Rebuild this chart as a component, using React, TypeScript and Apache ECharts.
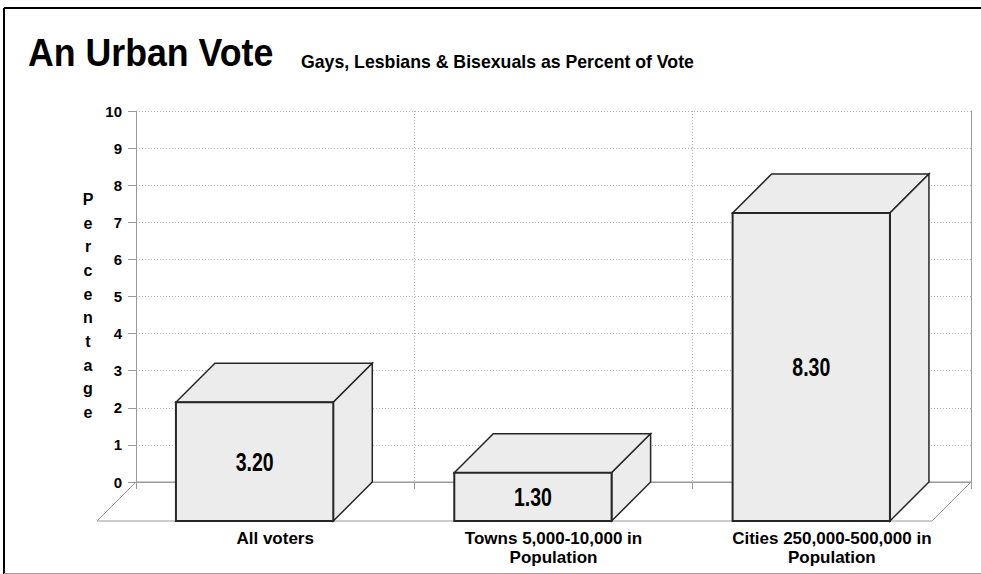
import { useEffect, useRef } from "react";
import * as echarts from "echarts";

// Chart data
const categories = [
  "All voters",
  "Towns 5,000-10,000 in\nPopulation",
  "Cities 250,000-500,000 in\nPopulation",
];
const values = [3.2, 1.3, 8.3];
const yMin = 0;
const yMax = 10;
const yInterval = 1;
const titleText = "An Urban Vote";
const subtitleText = "Gays, Lesbians & Bisexuals as Percent of Vote";
const yAxisTitle = "Percentage";

// Oblique projection: how far the back wall sits up and to the right of the front plane
const DEPTH = 39;
// Bar front face, as fractions of the band width, measured from the band centre
const FRONT_LEFT = -0.3565;
const FRONT_WIDTH = 0.5653;

const SANS = "'Liberation Sans', Arial, sans-serif";
const AXIS_GREY = "#9a9a9a";
const DOT_GREY = "#b4b4b4";
const FACE = "#ececec";
const EDGE = "#262626";

export default function App() {
  const ref = useRef<HTMLDivElement>(null);

  useEffect(() => {
    if (!ref.current) return;
    const chart = echarts.init(ref.current, null, { renderer: "svg" });

    const option: any = {
      animation: false,
      backgroundColor: "#ffffff",
      grid: { left: 136, right: 10, top: 111, bottom: 92, containLabel: false },
      xAxis: [
        {
          type: "category",
          data: categories,
          boundaryGap: true,
          axisLine: { show: true, lineStyle: { color: AXIS_GREY, width: 1 } },
          axisTick: { show: true, length: 7, interval: 0, lineStyle: { color: AXIS_GREY } },
          axisLabel: {
            interval: 0,
            margin: 47,
            fontFamily: SANS,
            fontWeight: "bold",
            fontSize: 17,
            lineHeight: 19,
            color: "#000",
          },
          splitLine: { show: true, interval: 0, lineStyle: { color: DOT_GREY, type: [1, 2] } },
        },
        {
          type: "category",
          data: categories,
          position: "top",
          axisLine: { show: true, lineStyle: { color: AXIS_GREY, width: 1 } },
          axisTick: { show: false },
          axisLabel: { show: false },
          splitLine: { show: false },
        },
      ],
      yAxis: [
        {
          type: "value",
          min: yMin,
          max: yMax,
          interval: yInterval,
          axisLine: { show: true, lineStyle: { color: AXIS_GREY, width: 1 } },
          axisTick: { show: true, length: 8, lineStyle: { color: AXIS_GREY } },
          axisLabel: {
            margin: 14,
            fontFamily: SANS,
            fontWeight: "bold",
            fontSize: 15,
            color: "#000",
          },
          splitLine: { show: true, lineStyle: { color: DOT_GREY, type: [1, 2] } },
        },
        {
          type: "value",
          min: yMin,
          max: yMax,
          interval: yInterval,
          position: "right",
          axisLine: { show: true, lineStyle: { color: AXIS_GREY, width: 1 } },
          axisTick: { show: false },
          axisLabel: { show: false },
          splitLine: { show: false },
        },
      ],
      series: [
        {
          // floor of the 3D plot area
          type: "custom",
          silent: true,
          z: 1,
          data: [[0, 0]],
          renderItem: (params: any) => {
            const cs = params.coordSys;
            const bx0 = cs.x;
            const bx1 = cs.x + cs.width;
            const by = cs.y + cs.height;
            return {
              type: "polygon",
              shape: {
                points: [
                  [bx0, by],
                  [bx1, by],
                  [bx1 - DEPTH, by + DEPTH],
                  [bx0 - DEPTH, by + DEPTH],
                ],
              },
              style: { fill: "none", stroke: AXIS_GREY, lineWidth: 1 },
            };
          },
        },
        {
          // 3D bars
          type: "custom",
          silent: true,
          z: 3,
          data: values.map((v, i) => [i, v]),
          encode: { x: 0, y: 1 },
          renderItem: (params: any, api: any) => {
            const idx = api.value(0);
            const v = api.value(1);
            const top = api.coord([idx, v]);
            const base = api.coord([idx, 0]);
            const bw = api.size([1, 0])[0];
            const x0 = top[0] + FRONT_LEFT * bw;
            const x1 = x0 + FRONT_WIDTH * bw;
            const yT = top[1] + DEPTH;
            const yB = base[1] + DEPTH;
            return {
              type: "group",
              children: [
                {
                  type: "polygon",
                  shape: {
                    points: [
                      [x0, yT],
                      [x0 + DEPTH, top[1]],
                      [x1 + DEPTH, top[1]],
                      [x1, yT],
                    ],
                  },
                  style: { fill: FACE, stroke: EDGE, lineWidth: 1.5, lineJoin: "miter" },
                },
                {
                  type: "polygon",
                  shape: {
                    points: [
                      [x1, yT],
                      [x1 + DEPTH, top[1]],
                      [x1 + DEPTH, base[1]],
                      [x1, yB],
                    ],
                  },
                  style: { fill: FACE, stroke: EDGE, lineWidth: 1.5, lineJoin: "miter" },
                },
                {
                  type: "rect",
                  shape: { x: x0, y: yT, width: x1 - x0, height: yB - yT },
                  style: { fill: FACE, stroke: EDGE, lineWidth: 2 },
                },
                {
                  // condensed value label centred on the front face
                  type: "text",
                  x: (x0 + x1) / 2,
                  y: (yT + yB) / 2,
                  scaleX: 0.75,
                  style: {
                    text: v.toFixed(2),
                    fill: "#000",
                    font: `bold 26px ${SANS}`,
                    align: "center",
                    verticalAlign: "middle",
                  },
                },
              ],
            };
          },
        },
      ],
      graphic: [
        // frame
        { type: "line", shape: { x1: 4, y1: 8, x2: 981, y2: 8 }, style: { stroke: "#000", lineWidth: 2 } },
        { type: "line", shape: { x1: 4, y1: 8, x2: 4, y2: 574 }, style: { stroke: "#000", lineWidth: 2 } },
        { type: "line", shape: { x1: 4, y1: 573.5, x2: 981, y2: 573.5 }, style: { stroke: "#a0a0a0", lineWidth: 1 } },
        {
          type: "text",
          x: 28,
          y: 53,
          scaleX: 0.94,
          style: {
            text: titleText,
            fill: "#000",
            font: `bold 38px ${SANS}`,
            align: "left",
            verticalAlign: "middle",
          },
        },
        {
          type: "text",
          x: 301,
          y: 62,
          style: {
            text: subtitleText,
            fill: "#000",
            font: `bold 17.7px ${SANS}`,
            align: "left",
            verticalAlign: "middle",
          },
        },
        {
          type: "text",
          x: 88,
          y: 306,
          style: {
            text: yAxisTitle.split("").join("\n"),
            fill: "#000",
            font: `bold 16px ${SANS}`,
            lineHeight: 23.7,
            align: "center",
            verticalAlign: "middle",
          },
        },
      ],
    };

    chart.setOption(option);
    return () => chart.dispose();
  }, []);

  return (
    <div
      ref={ref}
      style={{ position: "fixed", left: 0, top: 0, width: 981, height: 574 }}
    />
  );
}
